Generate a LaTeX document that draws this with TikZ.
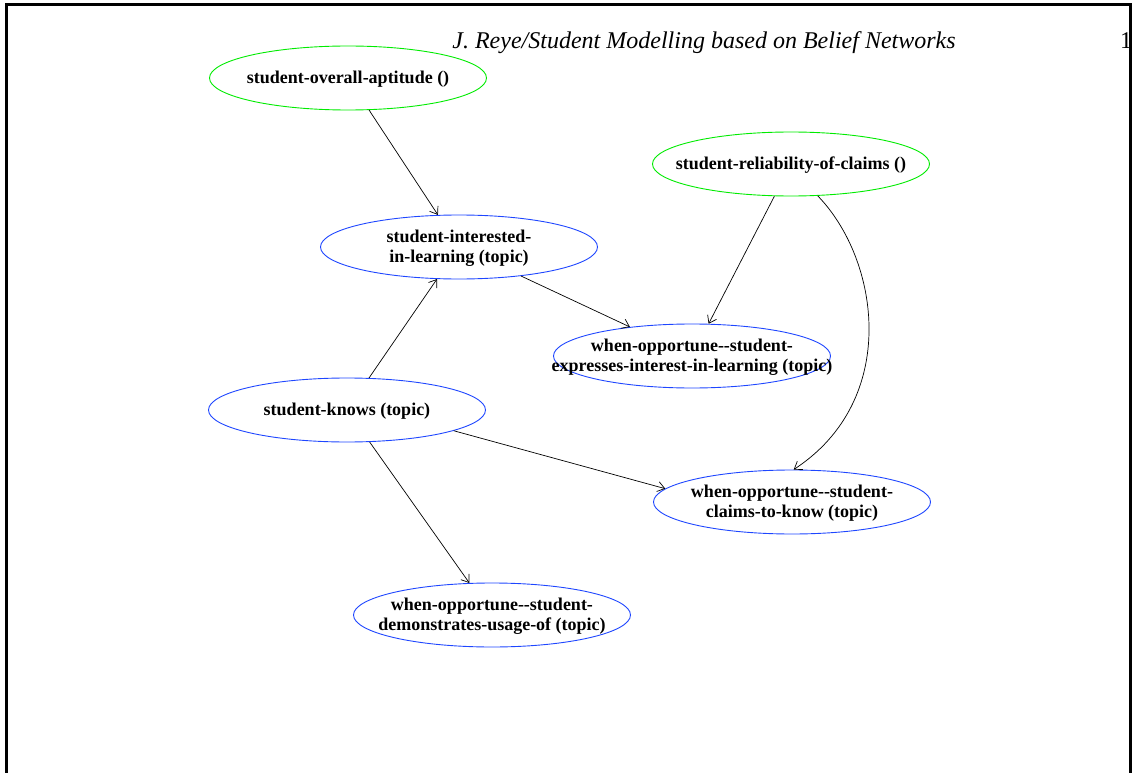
\documentclass[tikz,border=0pt]{standalone}
\usepackage{fontspec}
\setmainfont{Liberation Serif}
\usetikzlibrary{shapes.geometric,arrows.meta}
\definecolor{nodegreen}{RGB}{0,235,0}
\definecolor{nodeblue}{RGB}{30,70,255}
\tikzset{
  bn/.style={ellipse, draw, line width=0.9pt, minimum width=277pt, minimum height=64pt, inner sep=0pt},
  gn/.style={bn, draw=nodegreen},
  blu/.style={bn, draw=nodeblue},
  lbl/.style={font=\fontsize{18}{20}\selectfont\bfseries, align=center, inner sep=0pt, text=black, yshift=-1pt},
  edge/.style={draw=black, line width=0.7pt, -{Straight Barb[length=7pt,width=10pt]}},
  frame/.style={line width=3pt, black},
}
\begin{document}
\begin{tikzpicture}[x=1pt,y=-1pt]
\useasboundingbox (0,0) rectangle (1133,773);
% frame
\draw[frame] (6,773) -- (6,4.5) -- (1130,4.5) -- (1130,773);
% running head
\node[anchor=base, font=\fontsize{24}{26}\selectfont\itshape, inner sep=0pt] (head) at (704,49) {J. Reye/Student Modelling based on Belief Networks};
\begin{scope}
\clip (1100,20) rectangle (1128.5,60);
\node[anchor=base west, font=\fontsize{24}{26}\selectfont, inner sep=0pt] (pg) at (1120,49) {1};
\end{scope}
% nodes
\node[gn, label={[lbl]center:student-overall-aptitude ()}] (apt) at (348,78) {};
\node[gn, label={[lbl]center:student-reliability-of-claims ()}] (rel) at (791,164) {};
\node[blu, label={[lbl]center:student-interested-\\in-learning (topic)}] (int) at (459,247) {};
\node[blu, label={[lbl]center:when-opportune-{}-student-\\expresses-interest-in-learning (topic)}] (exp) at (692,356) {};
\node[blu, label={[lbl]center:student-knows (topic)}] (kno) at (347,410) {};
\node[blu, label={[lbl]center:when-opportune-{}-student-\\claims-to-know (topic)}] (cla) at (792,502) {};
\node[blu, label={[lbl]center:when-opportune-{}-student-\\demonstrates-usage-of (topic)}] (dem) at (492,615) {};
% edges
\draw[edge] (apt) -- (int);
\draw[edge] (rel) -- (exp);
\draw[edge] (int) -- (exp);
\draw[edge] (kno) -- (int);
\draw[edge] (kno.-11) -- (cla.174);
\draw[edge] (kno) -- (dem);
\draw[edge] (rel.-50) .. controls (880,260) and (900,400) .. (cla.87);
\end{tikzpicture}
\end{document}
